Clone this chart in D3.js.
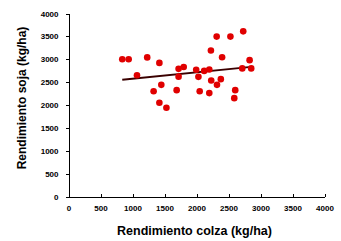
<!DOCTYPE html>
<html>
<head>
<meta charset="utf-8">
<script src="https://cdn.jsdelivr.net/npm/d3@7"></script>
<style>
body{margin:0;background:#fff;}
svg{display:block;font-family:"Liberation Sans",Arial,sans-serif;}
.axis path,.axis line{stroke:#000;stroke-width:1;shape-rendering:crispEdges;}
.axis text{font-size:8px;font-weight:bold;fill:#000;}
</style>
</head>
<body>
<svg id="chart" width="341" height="241"></svg>
<script>
//data
var colza=[840,940,1230,1420,1070,1720,1800,1720,1995,2120,2200,2030,2225,2315,2530,2730,2400,2830,2715,2855,2230,2380,2320,1330,1450,1690,2050,2200,2605,2590,1420,1530];
var soja=[3000,3000,3040,2920,2650,2790,2830,2620,2770,2745,2775,2615,3190,3495,3495,3610,3045,2980,2800,2800,2535,2565,2440,2300,2440,2325,2300,2260,2325,2150,2050,1940];
var xTicks=[0,500,1000,1500,2000,2500,3000,3500,4000];
var yTicks=[0,500,1000,1500,2000,2500,3000,3500,4000];

var svg=d3.select("#chart");
var mLeft=68.5,mRight=324.5,mTop=13.5,mBottom=196.5;

var x=d3.scaleLinear().domain([0,4000]).range([mLeft,mRight]);
var y=d3.scaleLinear().domain([0,4000]).range([mBottom,mTop]);

//y axis, ticks outward
svg.append("g")
	.attr("class","axis")
	.attr("transform","translate("+mLeft+",0)")
	.call(d3.axisLeft(y).tickValues(yTicks).tickFormat(d3.format("d")).tickSize(3).tickSizeOuter(0).tickPadding(7));

//x axis, ticks pointing up into the plot
var xa=svg.append("g")
	.attr("class","axis")
	.attr("transform","translate(0,"+mBottom+")")
	.call(d3.axisBottom(x).tickValues(xTicks).tickFormat(d3.format("d")).tickSize(-3).tickSizeOuter(0));
xa.selectAll("text").attr("y",9).attr("dy","0.71em");

//linear trend line (least squares)
var mx=d3.mean(colza),my=d3.mean(soja);
var sxy=d3.sum(colza,function(v,i){return (v-mx)*(soja[i]-my);});
var sxx=d3.sum(colza,function(v){return (v-mx)*(v-mx);});
var slope=sxy/sxx,icpt=my-slope*mx;
var x0=d3.min(colza),x1=d3.max(colza);
svg.append("line")
	.attr("x1",x(x0)).attr("y1",y(icpt+slope*x0))
	.attr("x2",x(x1)).attr("y2",y(icpt+slope*x1))
	.attr("stroke","#3a0000")
	.attr("stroke-width",2);

//points
svg.append("g").selectAll("circle")
	.data(colza)
	.enter().append("circle")
	.attr("cx",function(d){return x(d);})
	.attr("cy",function(d,i){return y(soja[i]);})
	.attr("r",3.3)
	.attr("fill","#e00000");

//axis titles
svg.append("text")
	.attr("x",(mLeft+mRight)/2-2)
	.attr("y",235)
	.attr("text-anchor","middle")
	.style("font-size","12.5px")
	.style("font-weight","bold")
	.text("Rendimiento colza (kg/ha)");

svg.append("text")
	.attr("transform","translate(26,98) rotate(-90)")
	.attr("text-anchor","middle")
	.style("font-size","12px")
	.style("font-weight","bold")
	.text("Rendimiento soja (kg/ha)");
</script>
</body>
</html>
